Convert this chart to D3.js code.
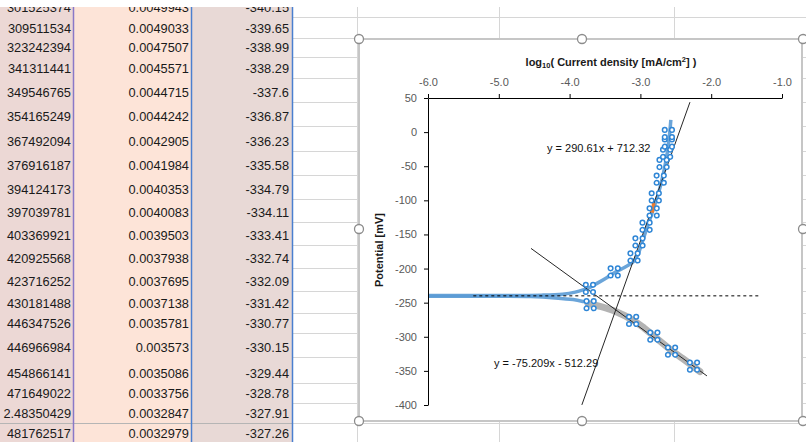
<!DOCTYPE html>
<html>
<head>
<meta charset="utf-8">
<script src="https://cdn.jsdelivr.net/npm/d3@7"></script>
<style>
  body { margin: 0; background: #fff; }
  svg { display: block; }
</style>
</head>
<body>
<div id="chart"></div>
<script>
// spreadsheet cells (column A = log10 of B, C = potential)
const colA = ["-2.301525374", "-2.309511534", "-2.323242394", "-2.341311441", "-2.349546765", "-2.354165249",
  "-2.367492094", "-2.376916187", "-2.394124173", "-2.397039781", "-2.403369921", "-2.420925568",
  "-2.423716252", "-2.430181488", "-2.446347526", "-2.446966984", "-2.454866141", "-2.471649022",
  "-2.48350429", "-2.481762517"];
const colB = ["0.0049943", "0.0049033", "0.0047507", "0.0045571", "0.0044715", "0.0044242",
  "0.0042905", "0.0041984", "0.0040353", "0.0040083", "0.0039503", "0.0037938",
  "0.0037695", "0.0037138", "0.0035781", "0.003573", "0.0035086", "0.0033756",
  "0.0032847", "0.0032979"];
const colC = ["-340.15", "-339.65", "-338.99", "-338.29", "-337.6", "-336.87", "-336.23", "-335.58",
  "-334.79", "-334.11", "-333.41", "-332.74", "-332.09", "-331.42", "-330.77", "-330.15",
  "-329.44", "-328.78", "-327.91", "-327.26"];

// chart series: x = log10(current density), y = potential [mV]
const upperLogI = [-6.0, -5.0, -4.4, -4.1, -3.92, -3.80, -3.72, -3.60, -3.47, -3.35, -3.22, -3.10, -3.03, -2.97, -2.90, -2.82, -2.74, -2.67, -2.62, -2.59, -2.57];
const upperE = [-239.5, -239.5, -239, -237.5, -234.5, -231, -228, -221, -213, -205, -198, -190, -178, -160, -138, -114, -88, -58, -30, -5, 18];

const lowerLogI = [-6.0, -5.0, -4.55, -4.2, -3.95, -3.80, -3.72];
const lowerE = [-240.5, -240.5, -241, -243, -245.5, -248.5, -250.5];

const greyLogI = [-3.74, -3.55, -3.35, -3.10, -2.95, -2.81, -2.68, -2.55, -2.40, -2.26, -2.16];
const greyE = [-251, -256, -263, -276, -287, -299, -310, -321, -332, -343, -351];

const anodicPtsLogI = [-3.72, -3.37, -3.09, -3.02, -2.92, -2.82, -2.79, -2.72, -2.68, -2.63, -2.605, -2.605];
const anodicPtsE = [-229, -205, -183, -161, -138, -117, -95, -69, -46, -31, -16, -2];

const cathodicPtsLogI = [-3.71, -3.11, -2.81, -2.56, -2.25];
const cathodicPtsE = [-253, -276, -299, -321, -343];

const orangeLogI = [-2.835, -2.81];
const orangeE = [-118, -104];

const anodicFit = { slope: 290.61, intercept: 712.32, from: -3.827, to: -2.30 };
const cathodicFit = { slope: -75.209, intercept: -512.29, from: -4.545, to: -2.06 };
const ecorr = -240;
const ecorrRange = [-5.36, -1.31];

const xTicks = [-6, -5, -4, -3, -2, -1];
const yTicks = [50, 0, -50, -100, -150, -200, -250, -300, -350, -400];

const W = 806, H = 442;
const FONT = "'Liberation Sans', Arial, sans-serif";
const svg = d3.select("#chart").append("svg")
    .attr("width", W)
    .attr("height", H);

// ---------- spreadsheet background ----------
const rowBottoms = [17, 38, 57, 78, 102, 126, 151, 175, 199, 222, 245, 268, 291, 313, 333, 357, 383, 403, 423, 443];

// gridlines in the empty cells
rowBottoms.forEach(y => {
    svg.append("line").attr("x1", 293).attr("x2", W).attr("y1", y + 0.5).attr("y2", y + 0.5)
        .attr("stroke", "#d6d6d6");
});
[357, 499, 674].forEach(x => {
    svg.append("line").attr("x1", x + 0.5).attr("x2", x + 0.5).attr("y1", 0).attr("y2", H)
        .attr("stroke", "#d6d6d6");
});

svg.append("rect").attr("x", 0).attr("y", 0).attr("width", 73).attr("height", H).attr("fill", "#ecd8d5");
svg.append("rect").attr("x", 73).attr("y", 0).attr("width", 119).attr("height", H).attr("fill", "#fde4d8");
svg.append("rect").attr("x", 192).attr("y", 0).attr("width", 101).attr("height", H).attr("fill", "#e8d9d6");
svg.append("line").attr("x1", 0).attr("x2", 293).attr("y1", 423.5).attr("y2", 423.5).attr("stroke", "#b5b5b5");

svg.append("line").attr("x1", 73.5).attr("x2", 73.5).attr("y1", 0).attr("y2", H).attr("stroke", "#8a78c8").attr("stroke-width", 1.5);
svg.append("line").attr("x1", 191.5).attr("x2", 191.5).attr("y1", 0).attr("y2", H).attr("stroke", "#4a7fd0").attr("stroke-width", 1.5);
svg.append("line").attr("x1", 292.5).attr("x2", 292.5).attr("y1", 0).attr("y2", H).attr("stroke", "#4a7fd0").attr("stroke-width", 1.5);

const cells = svg.append("g")
    .attr("font-family", FONT)
    .attr("font-size", 12.8)
    .attr("fill", "#1a1a1a")
    .attr("text-anchor", "end");

rowBottoms.forEach((yb, i) => {
    // column A is too narrow: leading characters fall off the left edge of the window
    const a = cells.append("text").attr("x", 71).attr("y", yb - 5).text(colA[i]);
    let s = colA[i];
    while (a.node().getComputedTextLength() > 70 && s.length > 1) {
        s = s.slice(1);
        if (s[0] === ".") s = s.slice(1);
        a.text(s);
    }
    cells.append("text").attr("x", 189).attr("y", yb - 5).text(colB[i]);
    cells.append("text").attr("x", 289).attr("y", yb - 5).text(colC[i]);
});

// white strip above the visible rows
svg.append("rect").attr("x", 0).attr("y", 0).attr("width", W).attr("height", 7).attr("fill", "#fff");

// ---------- chart ----------
svg.append("rect")
    .attr("x", 359).attr("y", 39).attr("width", 443).attr("height", 382)
    .attr("fill", "#fff").attr("stroke", "#c6c6c6").attr("stroke-width", 2);

const x = d3.scaleLinear().domain([-6, -1]).range([428, 782]);
const y = d3.scaleLinear().domain([50, -400]).range([98, 405]);

const plot = svg.append("g");

const line = d3.line()
    .x(d => x(d[0]))
    .y(d => y(d[1]))
    .curve(d3.curveCatmullRom.alpha(0.5));

const zip = (a, b) => a.map((v, i) => [v, b[i]]);

// grey band of the cathodic branch
plot.append("path")
    .datum(zip(greyLogI, greyE))
    .attr("d", line)
    .attr("fill", "none")
    .attr("stroke", "#a6a6a6")
    .attr("stroke-width", 7)
    .attr("stroke-linecap", "round")
    .attr("opacity", 0.85);

plot.append("path")
    .datum(zip(lowerLogI, lowerE))
    .attr("d", line)
    .attr("fill", "none")
    .attr("stroke", "#5b9bd5")
    .attr("stroke-width", 3.5)
    .attr("opacity", 0.9);

plot.append("path")
    .datum(zip(upperLogI, upperE))
    .attr("d", line)
    .attr("fill", "none")
    .attr("stroke", "#5b9bd5")
    .attr("stroke-width", 3.5)
    .attr("opacity", 0.9);

// dashed corrosion potential line
plot.append("line")
    .attr("x1", x(ecorrRange[0])).attr("x2", x(ecorrRange[1]))
    .attr("y1", y(ecorr)).attr("y2", y(ecorr))
    .attr("stroke", "#000")
    .attr("stroke-width", 1)
    .attr("stroke-dasharray", "3,3");

// tafel fits
[anodicFit, cathodicFit].forEach(f => {
    plot.append("line")
        .attr("x1", x(f.from)).attr("y1", y(f.slope * f.from + f.intercept))
        .attr("x2", x(f.to)).attr("y2", y(f.slope * f.to + f.intercept))
        .attr("stroke", "#262626")
        .attr("stroke-width", 1);
});

// orange highlight
plot.append("path")
    .datum(zip(orangeLogI, orangeE))
    .attr("d", d3.line().x(d => x(d[0])).y(d => y(d[1])))
    .attr("stroke", "#ed7d31")
    .attr("stroke-width", 3.5)
    .attr("fill", "none");

// four-circle markers
const offsets = [[-3.6, -3.6], [3.6, -3.6], [-3.6, 3.6], [3.6, 3.6]];
function drawMarkers(logs, es) {
    zip(logs, es).forEach(d => {
        const g = plot.append("g").attr("transform", `translate(${x(d[0])},${y(d[1])})`);
        offsets.forEach(o => {
            g.append("circle")
                .attr("cx", o[0]).attr("cy", o[1]).attr("r", 2.3)
                .attr("fill", "#fff")
                .attr("stroke", "#2f86d6")
                .attr("stroke-width", 1.5);
        });
    });
}
drawMarkers(anodicPtsLogI, anodicPtsE);
drawMarkers(cathodicPtsLogI, cathodicPtsE);

// equations
plot.append("text")
    .attr("x", 547).attr("y", 152)
    .attr("font-family", FONT)
    .attr("font-size", 11)
    .attr("fill", "#111")
    .text("y = 290.61x + 712.32");

plot.append("text")
    .attr("x", 494).attr("y", 367)
    .attr("font-family", FONT)
    .attr("font-size", 11)
    .attr("fill", "#111")
    .text("y = -75.209x - 512.29");

// axes
const xAxis = svg.append("g")
    .attr("transform", `translate(0, ${y(50)})`)
    .call(d3.axisTop(x).tickValues(xTicks).tickFormat(d => d.toFixed(1)).tickSize(4).tickPadding(8).tickSizeOuter(0));

const yAxis = svg.append("g")
    .attr("transform", `translate(${x(-6)}, 0)`)
    .call(d3.axisLeft(y).tickValues(yTicks).tickFormat(d => String(d)).tickSize(4).tickPadding(7).tickSizeOuter(0));

[xAxis, yAxis].forEach(a => {
    a.select(".domain").attr("stroke", "#000");
    a.selectAll(".tick line").attr("stroke", "#000");
    a.selectAll(".tick text")
        .attr("font-family", FONT)
        .attr("font-size", 11)
        .attr("fill", "#595959");
});

// axis titles
const xTitle = svg.append("text")
    .attr("x", 611).attr("y", 66)
    .attr("text-anchor", "middle")
    .attr("font-family", FONT)
    .attr("font-size", 11)
    .attr("font-weight", "bold")
    .attr("fill", "#1a1a1a");
xTitle.append("tspan").text("log");
xTitle.append("tspan").attr("font-size", 7.5).attr("dy", 2).text("10");
xTitle.append("tspan").attr("dy", -2).text("( Current density [mA/cm");
xTitle.append("tspan").attr("font-size", 7.5).attr("dy", -4).text("2");
xTitle.append("tspan").attr("dy", 4).text("] )");

svg.append("text")
    .attr("transform", "translate(383, 250) rotate(-90)")
    .attr("text-anchor", "middle")
    .attr("font-family", FONT)
    .attr("font-size", 11)
    .attr("font-weight", "bold")
    .attr("fill", "#1a1a1a")
    .text("Potential [mV]");

// selection handles
const handles = [[359, 39], [582, 39], [803, 39], [359, 229], [803, 229], [359, 421], [582, 421], [803, 421]];
handles.forEach(h => {
    svg.append("circle")
        .attr("cx", h[0]).attr("cy", h[1]).attr("r", 4.5)
        .attr("fill", "#fff")
        .attr("stroke", "#8c8c8c")
        .attr("stroke-width", 1.3);
});
</script>
</body>
</html>
